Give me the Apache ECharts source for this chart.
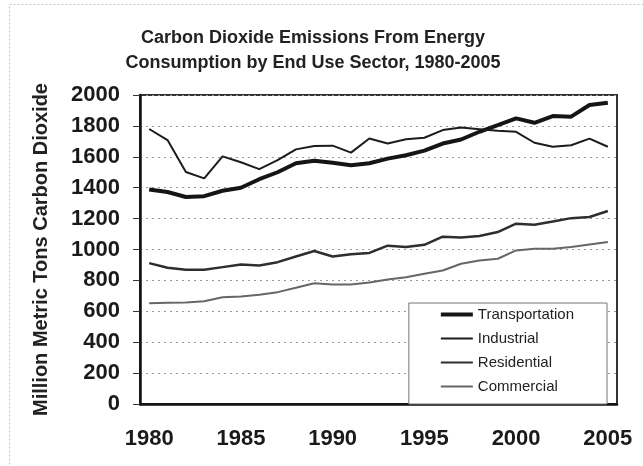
<!DOCTYPE html>
<html>
<head>
<meta charset="utf-8">
<title>Carbon Dioxide Emissions by End Use Sector</title>
<script src="https://cdn.jsdelivr.net/npm/echarts@6/dist/echarts.min.js"></script>
<style>
  html, body { margin: 0; padding: 0; background: #fff; }
  #chart { width: 643px; height: 466px; }
</style>
</head>
<body>
<div id="chart"></div>
<script>
// years on the x axis
const years = ['1980', '1981', '1982', '1983', '1984', '1985', '1986', '1987', '1988', '1989',
  '1990', '1991', '1992', '1993', '1994', '1995', '1996', '1997', '1998', '1999',
  '2000', '2001', '2002', '2003', '2004', '2005']

// million metric tons CO2
const transportation = [1388, 1372, 1340, 1345, 1380, 1400, 1455, 1500, 1558, 1575,
  1562, 1545, 1558, 1588, 1610, 1640, 1686, 1712, 1762, 1805,
  1849, 1820, 1864, 1860, 1935, 1950]
const industrial = [1780, 1708, 1502, 1460, 1603, 1565, 1520, 1578, 1648, 1670,
  1672, 1627, 1718, 1686, 1714, 1723, 1773, 1790, 1779, 1768,
  1762, 1691, 1665, 1675, 1718, 1665]
const residential = [912, 882, 869, 869, 886, 903, 897, 918, 955, 990,
  955, 970, 978, 1025, 1016, 1030, 1083, 1078, 1088, 1113,
  1167, 1160, 1181, 1203, 1210, 1249]
const commercial = [652, 655, 657, 665, 691, 696, 707, 724, 752, 782,
  773, 773, 786, 806, 821, 843, 864, 908, 929, 940,
  994, 1005, 1005, 1016, 1033, 1048]

const seriesNames = ['Transportation', 'Industrial', 'Residential', 'Commercial']
const font = '"Liberation Sans", Arial, sans-serif'

// legend swatches: plain line, no marker (tiny corner dots keep the 32x14 box)
const thickIcon = 'path://M0,0L0.05,0L0.05,0.05ZM32,14L31.95,14L31.95,13.95ZM0,5L32,5L32,9L0,9Z'
const thinIcon = 'path://M0,0L0.05,0L0.05,0.05ZM32,14L31.95,14L31.95,13.95ZM0,6L32,6L32,8L0,8Z'

const chart = echarts.init(document.getElementById('chart'))

function lineSeries(name, data, color, width) {
  return {
    name: name,
    type: 'line',
    data: data,
    symbol: 'none',
    smooth: false,
    lineStyle: { color: color, width: width },
    itemStyle: { color: color },
  }
}

chart.setOption({
  animation: false,
  backgroundColor: '#fff',
  textStyle: { fontFamily: font },
  title: {
    text: 'Carbon Dioxide Emissions From Energy\nConsumption by End Use Sector, 1980-2005',
    left: 313,
    textAlign: 'center',
    top: 26,
    padding: 0,
    textStyle: {
      fontFamily: font,
      fontSize: 18,
      fontWeight: 'bold',
      color: '#222',
      lineHeight: 25,
    },
  },
  // faint frame around the whole picture
  graphic: [{
    type: 'rect',
    shape: { x: 9.5, y: 4.5, width: 640, height: 470 },
    style: { fill: null, stroke: '#c4c4c4', lineWidth: 1, lineDash: [2, 2] },
    silent: true,
  }],
  legend: {
    data: [
      { name: seriesNames[0], icon: thickIcon },
      { name: seriesNames[1], icon: thinIcon },
      { name: seriesNames[2], icon: thinIcon },
      { name: seriesNames[3], icon: thinIcon },
    ],
    orient: 'vertical',
    right: 36,
    top: 303,
    itemWidth: 32,
    itemHeight: 14,
    itemGap: 9,
    padding: [4, 33, 10, 32],
    backgroundColor: '#fff',
    borderColor: '#777',
    borderWidth: 1,
    textStyle: { fontFamily: font, fontSize: 15, color: '#222' },
  },
  grid: {
    left: 140,
    right: 26,
    top: 95,
    bottom: 62,
    show: true,
    borderColor: '#333',
    borderWidth: 2,
  },
  xAxis: {
    type: 'category',
    data: years,
    boundaryGap: true,
    axisLine: { lineStyle: { color: '#111', width: 2.5 } },
    axisTick: { interval: 0, length: 5, lineStyle: { color: '#333' } },
    axisLabel: {
      interval: 4,
      margin: 24,
      fontFamily: font,
      fontSize: 22,
      fontWeight: 'bold',
      color: '#1a1a1a',
    },
    splitLine: { show: false },
  },
  yAxis: {
    type: 'value',
    min: 0,
    max: 2000,
    interval: 200,
    name: 'Million Metric Tons Carbon Dioxide',
    nameLocation: 'middle',
    nameGap: 89,
    nameTextStyle: { fontFamily: font, fontSize: 20, fontWeight: 'bold', color: '#222' },
    axisLine: { show: true, lineStyle: { color: '#111', width: 2.5 } },
    axisTick: { show: true, length: 7, lineStyle: { color: '#333' } },
    axisLabel: {
      margin: 20,
      formatter: v => String(v),
      fontFamily: font,
      fontSize: 22,
      fontWeight: 'bold',
      color: '#1a1a1a',
    },
    splitLine: { lineStyle: { color: '#9a9a9a', type: [2, 4], width: 1 } },
  },
  series: [
    lineSeries(seriesNames[0], transportation, '#151515', 4),
    lineSeries(seriesNames[1], industrial, '#1c1c1c', 2),
    lineSeries(seriesNames[2], residential, '#2e2e2e', 2.5),
    lineSeries(seriesNames[3], commercial, '#666', 2),
  ],
})
</script>
</body>
</html>
